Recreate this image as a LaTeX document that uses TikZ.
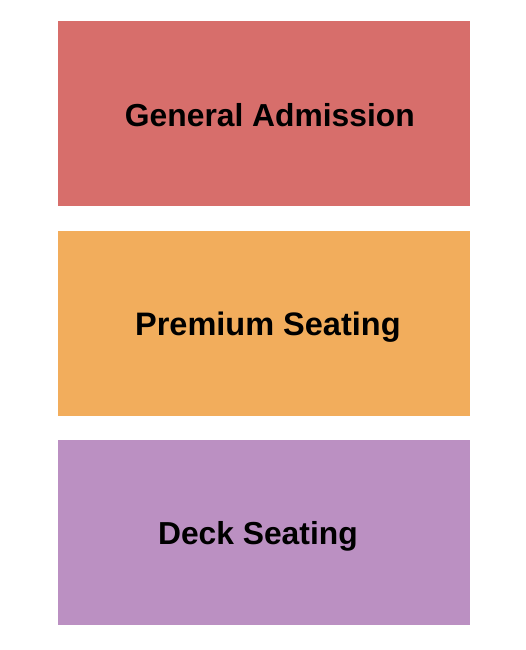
\documentclass[tikz,border=0pt]{standalone}
\usepackage{fontspec}
\setmainfont{Liberation Sans}
\usepackage{tikz}
\usetikzlibrary{positioning}
\definecolor{gacolor}{HTML}{D76E6B}
\definecolor{premcolor}{HTML}{F2AD5C}
\definecolor{deckcolor}{HTML}{BB90C2}
\tikzstyle{section}=[draw=none,rectangle,minimum width=412.8pt,minimum height=185pt,inner sep=0,outer sep=0]
\tikzstyle{sectionlabel}=[font=\fontsize{31.8}{36}\selectfont\bfseries,text=black,inner sep=0,anchor=base]

\begin{document}
\begin{tikzpicture}[x=1pt,y=-1pt]
\useasboundingbox (0,0) rectangle (525,650);

\node[section, fill=gacolor] at (263.9,113.4) (ga) {};
\node[section, fill=premcolor, below = 25pt of ga] (prem) {};
\node[section, fill=deckcolor, below = 24.5pt of prem] (deck) {};

% labels sit a little off the middle of each block
\node[sectionlabel] at ([xshift=6pt,yshift=-13.5pt]ga.center) (galabel) {General Admission};
\node[sectionlabel, font=\fontsize{32.5}{36}\selectfont\bfseries] at ([xshift=4pt,yshift=-12pt]prem.center) (premlabel) {Premium Seating};
\node[sectionlabel] at ([xshift=-6pt,yshift=-11.5pt]deck.center) (decklabel) {Deck Seating};
\end{tikzpicture}
\end{document}
